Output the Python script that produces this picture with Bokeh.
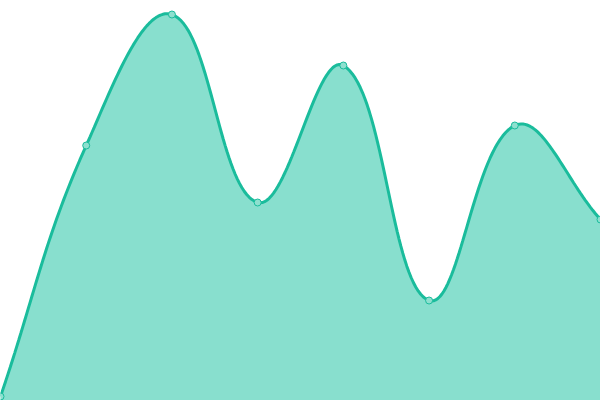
import numpy as np
from bokeh.plotting import figure
from bokeh.models import Range1d, ColumnDataSource
from bokeh.embed import file_html
from bokeh.resources import INLINE

# data
labels = ["P1", "P2", "P3", "P4", "P5", "P6", "P7", "P8"]
values = [4, 255, 386, 198, 335, 100, 275, 181]

LINE = "#1abc9c"
FILL = "#1abc9c"
TENSION = 0.4

W, H = 600, 400
p = figure(width=W, height=H, output_backend="svg", toolbar_location=None,
           x_range=Range1d(0, len(values) - 1), y_range=Range1d(0, 400),
           min_border=0, min_border_left=0, min_border_right=0,
           min_border_top=0, min_border_bottom=0)
p.axis.visible = False
p.grid.visible = False
p.outline_line_color = None
p.background_fill_color = "white"
p.border_fill_color = "white"

# smooth curve through the points (Chart.js-like spline with tension),
# computed in screen-proportional space
xs = np.arange(len(values), dtype=float)
ys = np.array(values, dtype=float)
sx = W / (len(values) - 1)
sy = H / 400.0
px, py = xs * sx, ys * sy
n = len(values)
cp_prev, cp_next = [], []
for i in range(n):
    a = max(i - 1, 0)
    b = min(i + 1, n - 1)
    d01 = np.hypot(px[i] - px[a], py[i] - py[a])
    d12 = np.hypot(px[b] - px[i], py[b] - py[i])
    tot = d01 + d12
    s01 = d01 / tot if tot else 0
    s12 = d12 / tot if tot else 0
    fa, fb = TENSION * s01, TENSION * s12
    dx, dy = px[b] - px[a], py[b] - py[a]
    cp_prev.append((px[i] - fa * dx, min(max(py[i] - fa * dy, 0), H)))
    cp_next.append((px[i] + fb * dx, min(max(py[i] + fb * dy, 0), H)))

cx, cy = [], []
t = np.linspace(0, 1, 40)
for i in range(n - 1):
    p0 = (px[i], py[i]); p1 = cp_next[i]; p2 = cp_prev[i + 1]; p3 = (px[i + 1], py[i + 1])
    bx = (1 - t) ** 3 * p0[0] + 3 * (1 - t) ** 2 * t * p1[0] + 3 * (1 - t) * t ** 2 * p2[0] + t ** 3 * p3[0]
    by = (1 - t) ** 3 * p0[1] + 3 * (1 - t) ** 2 * t * p1[1] + 3 * (1 - t) * t ** 2 * p2[1] + t ** 3 * p3[1]
    if i > 0:
        bx, by = bx[1:], by[1:]
    cx.extend(bx / sx); cy.extend(by / sy)

curve = ColumnDataSource(dict(x=cx, y=cy, y0=[0] * len(cx)))
p.varea(x="x", y1="y0", y2="y", source=curve, fill_color="#88dfce", fill_alpha=1.0)
p.line(x="x", y="y", source=curve, line_color=LINE, line_width=3)

pts = ColumnDataSource(dict(x=xs, y=ys, label=labels))
p.scatter(x="x", y="y", source=pts, size=7, fill_color="#8ee0cf", fill_alpha=1.0,
          line_color=LINE, line_width=1)

open("out.html", "w").write(file_html(p, INLINE))
